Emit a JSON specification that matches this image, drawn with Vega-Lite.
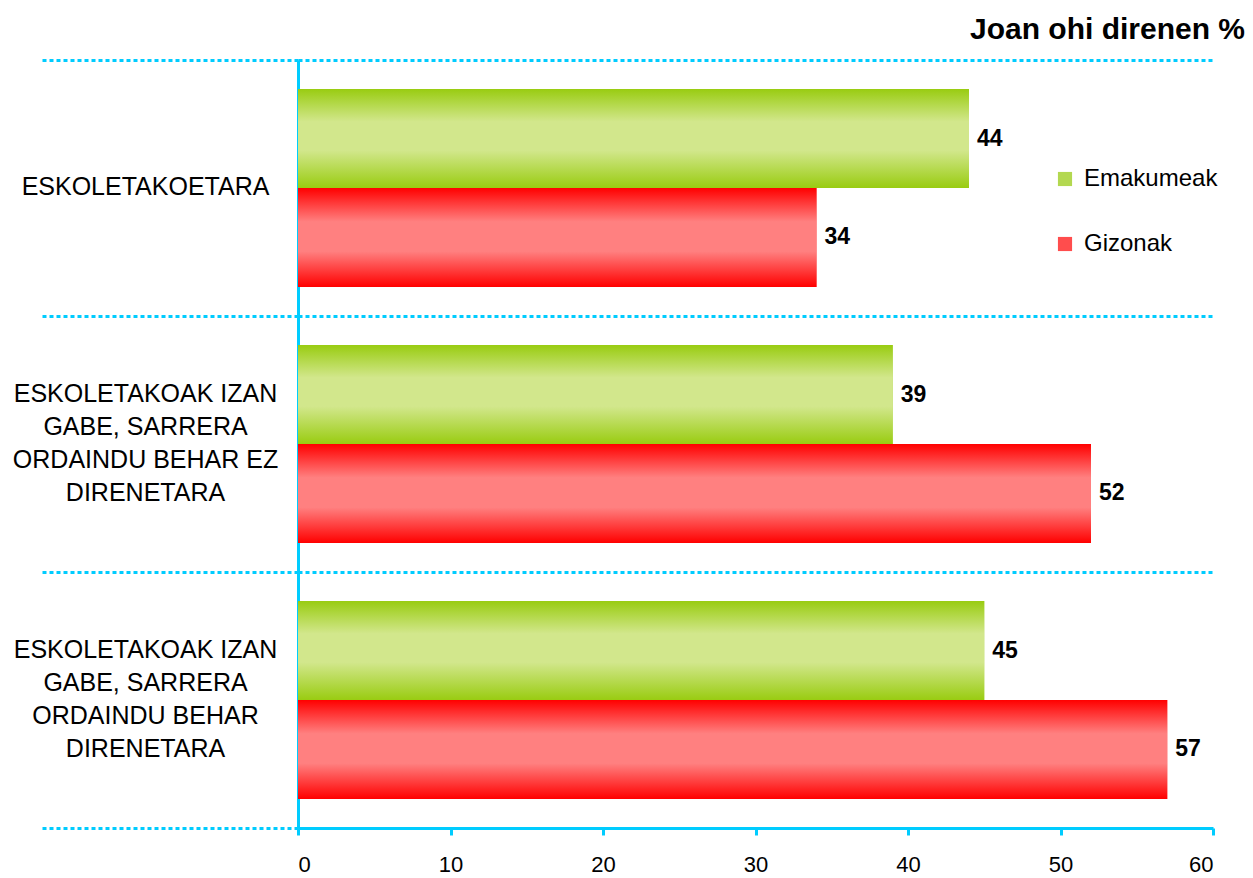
{
  "$schema": "https://vega.github.io/schema/vega-lite/v6.json",
  "width": 915,
  "height": 768,
  "autosize": {"type": "none"},
  "padding": {"left": 298, "top": 60, "right": 40, "bottom": 50},
  "background": "white",
  "config": {
    "view": {"stroke": null},
    "font": "Liberation Sans"
  },
  "title": {
    "text": "Joan ohi direnen %",
    "anchor": "end",
    "frame": "group",
    "fontSize": 30,
    "fontWeight": "bold",
    "font": "Liberation Sans",
    "color": "#000000",
    "dx": 32,
    "offset": 3
  },
  "data": {
    "values": [
      {"cat": "ESKOLETAKOETARA", "sex": "Emakumeak", "v": 44},
      {"cat": "ESKOLETAKOETARA", "sex": "Gizonak", "v": 34},
      {"cat": "ESKOLETAKOAK IZAN|GABE, SARRERA|ORDAINDU BEHAR EZ|DIRENETARA", "sex": "Emakumeak", "v": 39},
      {"cat": "ESKOLETAKOAK IZAN|GABE, SARRERA|ORDAINDU BEHAR EZ|DIRENETARA", "sex": "Gizonak", "v": 52},
      {"cat": "ESKOLETAKOAK IZAN|GABE, SARRERA|ORDAINDU BEHAR|DIRENETARA", "sex": "Emakumeak", "v": 45},
      {"cat": "ESKOLETAKOAK IZAN|GABE, SARRERA|ORDAINDU BEHAR|DIRENETARA", "sex": "Gizonak", "v": 57}
    ]
  },
  "encoding": {
    "y": {
      "field": "cat",
      "type": "nominal",
      "sort": null,
      "scale": {"paddingInner": 0, "paddingOuter": 0},
      "axis": {
        "title": null,
        "tickBand": "extent",
        "domainColor": "#00ccff",
        "domainWidth": 3,
        "tickColor": "#00ccff",
        "tickWidth": 3,
        "tickSize": 258,
        "tickDash": [4, 3],
        "grid": true,
        "gridColor": "#00ccff",
        "gridWidth": 3,
        "gridDash": [4, 3],
        "gridOpacity": 1,
        "labelExpr": "indexof(datum.label, '|') >= 0 ? [split(datum.label, '|')[0], '\u2800', split(datum.label, '|')[1], '\u2800', split(datum.label, '|')[2], '\u2800', split(datum.label, '|')[3]] : ['\u2800', '\u2800', '\u2800', datum.label]",
        "labelAlign": "center",
        "labelBaseline": "middle",
        "labelPadding": -105,
        "labelOffset": -51,
        "labelFontSize": 25,
        "labelColor": "#000000",
        "labelLineHeight": 16.5,
        "labelLimit": 400
      }
    },
    "yOffset": {
      "field": "sex",
      "type": "nominal",
      "sort": ["Emakumeak", "Gizonak"],
      "scale": {"paddingInner": 0, "paddingOuter": 0.293}
    },
    "x": {
      "field": "v",
      "type": "quantitative",
      "scale": {"domain": [0, 60], "nice": false},
      "axis": {
        "title": null,
        "values": [0, 10, 20, 30, 40, 50, 60],
        "grid": false,
        "domainColor": "#00ccff",
        "domainWidth": 3,
        "tickColor": "#00ccff",
        "tickWidth": 3,
        "tickSize": 7,
        "labelFontSize": 22,
        "labelColor": "#000000",
        "labelPadding": 19
      }
    }
  },
  "layer": [
    {
      "mark": {"type": "bar", "cornerRadius": 0},
      "encoding": {
        "color": {
          "field": "sex",
          "type": "nominal",
          "sort": ["Emakumeak", "Gizonak"],
          "scale": {"domain": ["Emakumeak", "Gizonak"], "range": ["#b3d850", "#ff4d4d"]},
          "legend": {
            "title": null,
            "orient": "none",
            "legendX": 755,
            "legendY": 107,
            "symbolType": "square",
            "symbolSize": 200,
            "symbolStrokeWidth": 0,
            "labelFontSize": 24,
            "labelColor": "#000000",
            "labelFont": "Liberation Sans",
            "rowPadding": 41,
            "labelOffset": 7
          }
        }
      }
    },
    {
      "transform": [{"filter": "datum.sex === 'Emakumeak'"}],
      "mark": {
        "type": "bar",
        "fill": {
          "gradient": "linear",
          "x1": 0, "y1": 0, "x2": 0, "y2": 1,
          "stops": [
            {"offset": 0, "color": "#99cc11"},
            {"offset": 0.33, "color": "#d2e78c"},
            {"offset": 0.62, "color": "#d2e78c"},
            {"offset": 1, "color": "#99cc11"}
          ]
        }
      }
    },
    {
      "transform": [{"filter": "datum.sex === 'Gizonak'"}],
      "mark": {
        "type": "bar",
        "fill": {
          "gradient": "linear",
          "x1": 0, "y1": 0, "x2": 0, "y2": 1,
          "stops": [
            {"offset": 0, "color": "#ff0000"},
            {"offset": 0.34, "color": "#ff8080"},
            {"offset": 0.64, "color": "#ff8080"},
            {"offset": 1, "color": "#ff0000"}
          ]
        }
      }
    },
    {
      "mark": {
        "type": "text",
        "align": "left",
        "baseline": "middle",
        "dx": 8,
        "fontSize": 23,
        "fontWeight": "bold",
        "color": "#000000"
      },
      "encoding": {
        "text": {"field": "v", "type": "quantitative"}
      }
    }
  ]
}
